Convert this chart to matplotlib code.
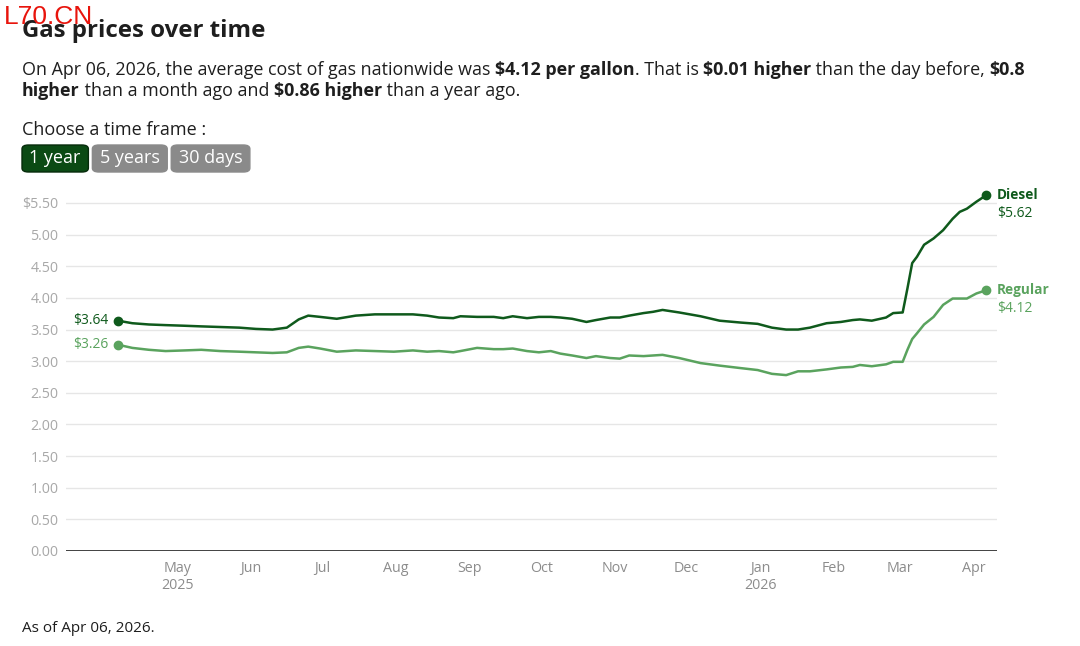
import matplotlib
matplotlib.use('Agg')
import matplotlib.pyplot as plt
import matplotlib.dates as mdates
from matplotlib.patches import FancyBboxPatch
from matplotlib.ticker import FuncFormatter
import pandas as pd
from datetime import datetime

dates = [
    '2025-04-06', '2025-04-12', '2025-04-19', '2025-04-26', '2025-05-04', '2025-05-11',
    '2025-05-19', '2025-05-27', '2025-06-03', '2025-06-10', '2025-06-16', '2025-06-21',
    '2025-06-25', '2025-06-30', '2025-07-07', '2025-07-15', '2025-07-23', '2025-07-31',
    '2025-08-08', '2025-08-14', '2025-08-19', '2025-08-25', '2025-08-28', '2025-09-04',
    '2025-09-11', '2025-09-15', '2025-09-19', '2025-09-25', '2025-09-30', '2025-10-05',
    '2025-10-09', '2025-10-14', '2025-10-20', '2025-10-24', '2025-10-30', '2025-11-03',
    '2025-11-07', '2025-11-13', '2025-11-17', '2025-11-21', '2025-11-28', '2025-12-07',
    '2025-12-15', '2025-12-24', '2025-12-31', '2026-01-06', '2026-01-12', '2026-01-17',
    '2026-01-22', '2026-01-29', '2026-02-04', '2026-02-09', '2026-02-12', '2026-02-17',
    '2026-02-23', '2026-02-26', '2026-03-02', '2026-03-04', '2026-03-06', '2026-03-08',
    '2026-03-11', '2026-03-15', '2026-03-19', '2026-03-23', '2026-03-26', '2026-03-29',
    '2026-04-02', '2026-04-06',
]
diesel = [
    3.64, 3.60, 3.58, 3.57, 3.56, 3.55, 3.54, 3.53, 3.51, 3.50, 3.53, 3.66,
    3.72, 3.70, 3.67, 3.72, 3.74, 3.74, 3.74, 3.72, 3.69, 3.68, 3.71, 3.70,
    3.70, 3.68, 3.71, 3.68, 3.70, 3.70, 3.69, 3.67, 3.62, 3.65, 3.69, 3.69,
    3.72, 3.76, 3.78, 3.81, 3.77, 3.71, 3.64, 3.61, 3.59, 3.53, 3.50, 3.50,
    3.53, 3.60, 3.62, 3.65, 3.66, 3.64, 3.69, 3.76, 3.77, 4.15, 4.55, 4.65,
    4.84, 4.94, 5.07, 5.25, 5.36, 5.41, 5.52, 5.62,
]
regular = [
    3.26, 3.21, 3.18, 3.16, 3.17, 3.18, 3.16, 3.15, 3.14, 3.13, 3.14, 3.21,
    3.23, 3.20, 3.15, 3.17, 3.16, 3.15, 3.17, 3.15, 3.16, 3.14, 3.16, 3.21,
    3.19, 3.19, 3.20, 3.16, 3.14, 3.16, 3.12, 3.09, 3.05, 3.08, 3.05, 3.04,
    3.09, 3.08, 3.09, 3.10, 3.05, 2.97, 2.93, 2.89, 2.86, 2.80, 2.78, 2.84,
    2.84, 2.87, 2.90, 2.91, 2.94, 2.92, 2.95, 2.99, 2.99, 3.18, 3.35, 3.44,
    3.58, 3.70, 3.89, 3.99, 3.99, 3.99, 4.07, 4.12,
]
y_ticks = [0, 0.5, 1.0, 1.5, 2.0, 2.5, 3.0, 3.5, 4.0, 4.5, 5.0, 5.5]
buttons = ['1 year', '5 years', '30 days']

DIESEL = '#0f5a1c'
REGULAR = '#5aa35e'
TEXT = '#1e1e1e'
GRAY = '#8c8c8c'

plt.rcParams['font.family'] = ['Open Sans', 'DejaVu Sans']

W, H = 1080, 646
fig = plt.figure(figsize=(W / 100, H / 100), dpi=100)
renderer = fig.canvas.get_renderer()


def px(x, y):
    return x / W, 1 - y / H


def rich_line(x, y, parts, size):
    # draw bold/regular pieces one after another on the same baseline
    for s, bold in parts:
        t = fig.text(*px(x, y), s.replace(' ', '\u00a0'), fontsize=size, color=TEXT,
                     fontweight='bold' if bold else 'normal', va='baseline', ha='left')
        x += t.get_window_extent(renderer).width


# watermark + title block
fig.text(*px(4, 17), 'L70.CN', fontsize=19, color='#e8140c', family='Liberation Sans',
         va='center', ha='left', zorder=10)
fig.text(*px(22, 31), 'Gas prices over time', fontsize=17.3, fontweight='bold',
         color=TEXT, va='center', ha='left')
rich_line(22, 75, [('On Apr 06, 2026, the average cost of gas nationwide was ', False),
                   ('$4.12 per gallon', True), ('. That is ', False),
                   ('$0.01 higher', True), (' than the day before, ', False),
                   ('$0.8', True)], 12.85)
rich_line(22, 96, [('higher', True), (' than a month ago and ', False),
                   ('$0.86 higher', True), (' than a year ago.', False)], 12.85)
fig.text(*px(22, 130), 'Choose a time frame :', fontsize=13, color=TEXT,
         va='center', ha='left')

# time frame buttons
bx = 22
for i, label in enumerate(buttons):
    t = fig.text(0, 0, label, fontsize=13, color='white', va='center', ha='center')
    tw = t.get_window_extent(renderer).width
    bw = tw + 15
    face = '#0b4a14' if i == 0 else '#8a8a8a'
    edge = '#062b0b' if i == 0 else '#8a8a8a'
    box = FancyBboxPatch(px(bx, 172), bw / W, 27 / H,
                         boxstyle='round,pad=0,rounding_size=0.006',
                         transform=fig.transFigure, facecolor=face, edgecolor=edge,
                         linewidth=1)
    fig.patches.append(box)
    t.set_position(px(bx + bw / 2, 158))
    t.set_zorder(5)
    bx += bw + 4

# chart
ax_l, ax_r, ax_b = 66, 997, 551
ymax = 5.8
ax_t = ax_b - ymax * (348 / 5.5)
ax = fig.add_axes([ax_l / W, 1 - ax_b / H, (ax_r - ax_l) / W, (ax_b - ax_t) / H])

d = pd.to_datetime(dates)
ax.set_xlim(datetime(2025, 3, 15, 3), datetime(2026, 4, 10, 16))
ax.set_ylim(0, ymax)

for v in y_ticks[1:]:
    ax.axhline(v, color='#e6e6e6', lw=1, zorder=0)
ax.axhline(0, color='#333333', lw=1.3, zorder=1)

ax.plot(d, diesel, color=DIESEL, lw=1.8, zorder=3, solid_capstyle='round')
ax.plot(d, regular, color=REGULAR, lw=1.8, zorder=3, solid_capstyle='round')
for series, col in [(diesel, DIESEL), (regular, REGULAR)]:
    ax.plot([d[0], d[-1]], [series[0], series[-1]], 'o', color=col, ms=6, zorder=4)
    ax.annotate(f'${series[0]:.2f}', (d[0], series[0]), xytext=(-7, 0),
                textcoords='offset points', ha='right', va='center',
                fontsize=10, color=col)

ax.annotate('Diesel', (d[-1], diesel[-1]), xytext=(8, 0), textcoords='offset points',
            ha='left', va='center', fontsize=9.8, fontweight='bold', color=DIESEL)
ax.annotate(f'${diesel[-1]:.2f}', (d[-1], diesel[-1]), xytext=(8, -13),
            textcoords='offset points', ha='left', va='center', fontsize=10,
            color=DIESEL)
ax.annotate('Regular', (d[-1], regular[-1]), xytext=(8, 0), textcoords='offset points',
            ha='left', va='center', fontsize=9.8, fontweight='bold', color=REGULAR)
ax.annotate(f'${regular[-1]:.2f}', (d[-1], regular[-1]), xytext=(8, -13),
            textcoords='offset points', ha='left', va='center', fontsize=10,
            color=REGULAR)

ax.set_yticks(y_ticks)
ax.set_yticklabels([f'${v:.2f}' if v == y_ticks[-1] else f'{v:.2f}' for v in y_ticks])


def month_fmt(x, pos):
    dt = mdates.num2date(x)
    s = dt.strftime('%b')
    if dt.month == 1 or (dt.month == 5 and dt.year == 2025):
        s += '\n' + str(dt.year)
    return s


month_ticks = pd.date_range('2025-05-01', '2026-04-01', freq='MS')
ax.set_xticks(month_ticks)
ax.xaxis.set_major_formatter(FuncFormatter(month_fmt))
ax.tick_params(axis='both', length=0, labelsize=10.3)
ax.tick_params(axis='y', pad=5.5, colors='#a8a8a8')
ax.tick_params(axis='x', pad=7, colors=GRAY)
for lbl in ax.get_xticklabels():
    lbl.set_linespacing(1.25)
for s in ax.spines.values():
    s.set_visible(False)

fig.text(*px(22, 629), 'As of Apr 06, 2026.', fontsize=11, color=TEXT,
         va='center', ha='left')

fig.savefig('out.png', dpi=100, facecolor='white')
